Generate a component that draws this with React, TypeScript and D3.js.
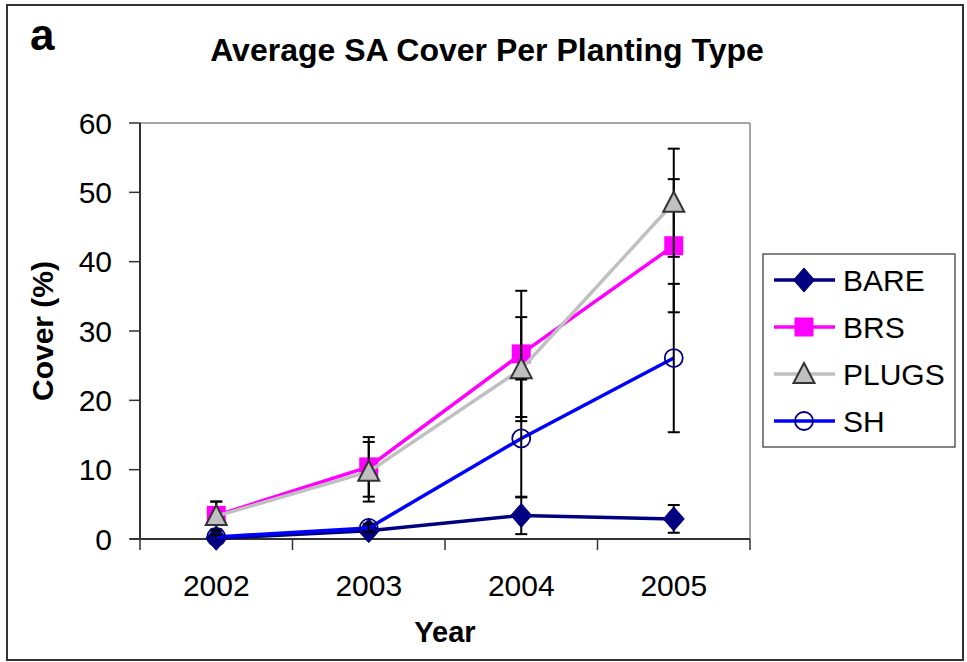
import React from "react";
import * as d3 from "d3";

// data
const years = ["2002", "2003", "2004", "2005"];
const bare = [0.1, 1.2, 3.4, 2.9];
const bareErr = [0.2, 0.5, 2.7, 2.0];
const brs = [3.4, 10.4, 26.7, 42.3];
const brsErr = [2.0, 4.3, 9.1, 9.6];
const plugs = [3.3, 9.7, 24.5, 48.5];
const plugsErr = [2.1, 4.3, 7.5, 7.8];
const sh = [0.3, 1.6, 14.5, 26.1];
const shErr = [0.3, 0.6, 8.5, 10.7];
const yTicks = [0, 10, 20, 30, 40, 50, 60];

const seriesNames = ["BARE", "BRS", "PLUGS", "SH"];
const seriesValues = [bare, brs, plugs, sh];
const seriesErrors = [bareErr, brsErr, plugsErr, shErr];
const lineColors = ["#000080", "#FF00FF", "#C0C0C0", "#0000FF"];

const W = 967;
const H = 662;
const font = "'Liberation Sans', Arial, sans-serif";

function Marker({ kind, x, y }: { kind: number; x: number; y: number }) {
  if (kind === 0) {
    const p = d3.path();
    p.moveTo(x, y - 12);
    p.lineTo(x + 10.5, y);
    p.lineTo(x, y + 12);
    p.lineTo(x - 10.5, y);
    p.closePath();
    return <path d={p.toString()} fill="#000080" stroke="#000080" strokeWidth={1} />;
  }
  if (kind === 1) {
    return <rect x={x - 9.5} y={y - 9.5} width={19} height={19} fill="#FF00FF" />;
  }
  if (kind === 2) {
    const tri = d3.line()([
      [x, y - 11],
      [x + 10.5, y + 9],
      [x - 10.5, y + 9],
    ]);
    return (
      <path d={tri + "Z"} fill="#C0C0C0" stroke="#333333" strokeWidth={2} strokeLinejoin="miter" />
    );
  }
  return <circle cx={x} cy={y} r={9} fill="none" stroke="#000080" strokeWidth={1.8} />;
}

export default function App() {
  const x = d3.scaleBand().domain(years).range([140, 750]).padding(0);
  const y = d3.scaleLinear().domain([0, 60]).range([539, 123]);
  const cx = (yr: string) => (x(yr) as number) + x.bandwidth() / 2;

  const line = d3
    .line<number>()
    .x((d, i) => cx(years[i]))
    .y((d) => y(d));

  const bounds = [...years.map((yr) => x(yr) as number), 750];

  const legendY = [280, 327, 374, 421];

  return (
    <svg
      width={W}
      height={H}
      style={{ position: "absolute", left: 0, top: 0, background: "#fff" }}
      fontFamily={font}
    >
      <rect x={7} y={5} width={956} height={655} fill="#fff" stroke="#333" strokeWidth={2} />

      <text x={30} y={50} fontSize={44} fontWeight="bold">a</text>
      <text x={487} y={61} fontSize={32} fontWeight="bold" textAnchor="middle">
        Average SA Cover Per Planting Type
      </text>

      {/* plot frame */}
      <line x1={140} x2={750} y1={123} y2={123} stroke="#888" strokeWidth={1.5} />
      <line x1={750} x2={750} y1={123} y2={539} stroke="#888" strokeWidth={1.5} />

      {/* y axis */}
      <line x1={140} x2={140} y1={123} y2={539} stroke="#333" strokeWidth={2} />
      {yTicks.map((t) => (
        <g key={t}>
          <line x1={129} x2={140} y1={y(t)} y2={y(t)} stroke="#333" strokeWidth={1.5} />
          <text x={112} y={y(t)} dy="0.36em" fontSize={30} textAnchor="end">
            {t}
          </text>
        </g>
      ))}
      <text
        transform={`translate(53,${(123 + 539) / 2}) rotate(-90)`}
        fontSize={30}
        fontWeight="bold"
        textAnchor="middle"
      >
        Cover (%)
      </text>

      {/* x axis */}
      <line x1={130} x2={750} y1={539} y2={539} stroke="#333" strokeWidth={2} />
      {bounds.map((b, i) => (
        <line key={i} x1={b} x2={b} y1={539} y2={550} stroke="#333" strokeWidth={1.5} />
      ))}
      {years.map((yr) => (
        <text key={yr} x={cx(yr)} y={596} fontSize={30} textAnchor="middle">
          {yr}
        </text>
      ))}
      <text x={445} y={642} fontSize={29} fontWeight="bold" textAnchor="middle">
        Year
      </text>

      {/* series */}
      {seriesValues.map((vals, s) => (
        <g key={seriesNames[s]}>
          <path d={line(vals) || ""} fill="none" stroke={lineColors[s]} strokeWidth={3.5} />
          {vals.map((v, i) => {
            const e = seriesErrors[s][i];
            const px = cx(years[i]);
            const lo = Math.max(0, v - e);
            return (
              <g key={i} stroke="#000" strokeWidth={2}>
                <line x1={px} x2={px} y1={y(v + e)} y2={y(lo)} />
                <line x1={px - 6} x2={px + 6} y1={y(v + e)} y2={y(v + e)} />
                {v - e > 0 && <line x1={px - 6} x2={px + 6} y1={y(lo)} y2={y(lo)} />}
              </g>
            );
          })}
          {vals.map((v, i) => (
            <Marker key={i} kind={s} x={cx(years[i])} y={y(v)} />
          ))}
        </g>
      ))}

      {/* legend */}
      <rect x={763} y={254} width={192} height={193} fill="#fff" stroke="#333" strokeWidth={1.2} />
      {seriesNames.map((n, s) => (
        <g key={n}>
          <line x1={774} x2={835} y1={legendY[s]} y2={legendY[s]} stroke={lineColors[s]} strokeWidth={3.5} />
          <Marker kind={s} x={804} y={legendY[s]} />
          <text x={843} y={legendY[s]} dy="0.36em" fontSize={30}>
            {n}
          </text>
        </g>
      ))}
    </svg>
  );
}
